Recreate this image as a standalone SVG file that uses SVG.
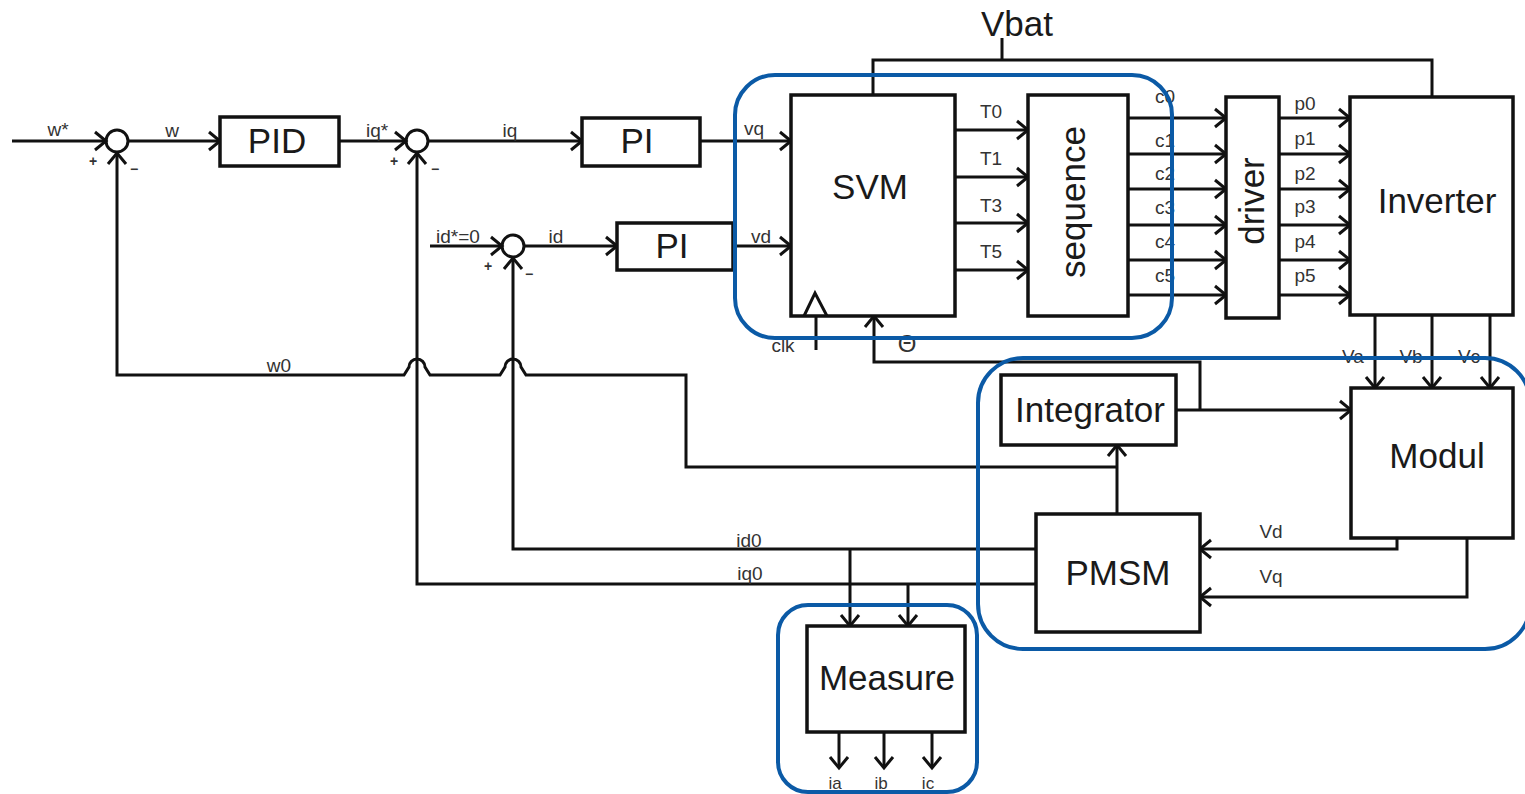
<svg xmlns="http://www.w3.org/2000/svg" width="1525" height="794" viewBox="0 0 1525 794">
<defs>
<style>
.box{fill:#fff;stroke:#111;stroke-width:3.5}
.ln{fill:none;stroke:#111;stroke-width:3}
.arw{fill:none;stroke:#111;stroke-width:3;marker-end:url(#arr)}
.big{font-family:"Liberation Sans",Arial,sans-serif;font-size:35px;fill:#1a1a1a;text-anchor:middle}
.sm{font-family:"Liberation Sans",Arial,sans-serif;font-size:19px;fill:#333;text-anchor:middle}
.sg{font-family:"Liberation Sans",Arial,sans-serif;font-size:14px;font-weight:bold;fill:#333;text-anchor:middle}
.grp{fill:none;stroke:#0b5aa6;stroke-width:4}
</style>
<marker id="arr" markerWidth="14" markerHeight="22" refX="12" refY="10" orient="auto" markerUnits="userSpaceOnUse" overflow="visible">
<path d="M1,1 L12,10 L1,19" fill="none" stroke="#111" stroke-width="3"/>
</marker>
</defs>
<rect width="1525" height="794" fill="#fff"/>

<g id="connectors">
<path class="arw" d="M12,141 L106,141"/>
<path class="arw" d="M128,141 L220,141"/>
<path class="arw" d="M339,141 L406,141"/>
<path class="arw" d="M428,141 L582,141"/>
<path class="arw" d="M700,141 L791,141"/>
<path class="arw" d="M430,246 L502,246"/>
<path class="arw" d="M524,246 L617,246"/>
<path class="arw" d="M733,246 L791,246"/>
<path class="arw" d="M955,130 L1028,130"/>
<path class="arw" d="M955,177 L1028,177"/>
<path class="arw" d="M955,223 L1028,223"/>
<path class="arw" d="M955,270 L1028,270"/>
<path class="arw" d="M1128,118 L1226,118"/>
<path class="arw" d="M1128,154 L1226,154"/>
<path class="arw" d="M1128,189 L1226,189"/>
<path class="arw" d="M1128,225 L1226,225"/>
<path class="arw" d="M1128,260 L1226,260"/>
<path class="arw" d="M1128,295 L1226,295"/>
<path class="arw" d="M1279,118 L1350,118"/>
<path class="arw" d="M1279,154 L1350,154"/>
<path class="arw" d="M1279,189 L1350,189"/>
<path class="arw" d="M1279,225 L1350,225"/>
<path class="arw" d="M1279,260 L1350,260"/>
<path class="arw" d="M1279,295 L1350,295"/>
<path class="ln" d="M873,95 L873,60 L1432,60 L1432,97"/>
<path class="ln" d="M1002,38 L1002,60"/>
<path class="arw" d="M1375,315 L1375,388"/>
<path class="arw" d="M1432,315 L1432,388"/>
<path class="arw" d="M1490,315 L1490,388"/>
<path class="arw" d="M1397,538 L1397,549 L1200,549"/>
<path class="arw" d="M1467,538 L1467,597 L1200,597"/>
<path class="arw" d="M1117,514 L1117,445"/>
<path class="arw" d="M1176,410 L1351,410"/>
<path class="arw" d="M1200,410 L1200,362 L874,362 L874,316"/>
<path class="ln" d="M816,350 L816,316"/>
<path class="arw" d="M1117,467 L686,467 L686,375 L526,375 L521,367 A8,8 0 0 0 505,367 L500,375 L430,375 L425,367 A8,8 0 0 0 409,367 L404,375 L117,375 L117,153"/>
<path class="arw" d="M1036,549 L513,549 L513,258"/>
<path class="arw" d="M1036,584 L417,584 L417,153"/>
<path class="arw" d="M850,549 L850,626"/>
<path class="arw" d="M908,584 L908,626"/>
<path class="arw" d="M839,732 L839,768"/>
<path class="arw" d="M884,732 L884,768"/>
<path class="arw" d="M932,732 L932,768"/>
</g>

<g id="sum1"><circle cx="117" cy="141" r="11" class="ln"/><text class="sg" x="93" y="166">+</text><text class="sg" x="134" y="174">−</text></g>
<g id="sum2"><circle cx="417" cy="141" r="11" class="ln"/><text class="sg" x="394" y="166">+</text><text class="sg" x="435" y="174">−</text></g>
<g id="sum3"><circle cx="513" cy="246" r="11" class="ln"/><text class="sg" x="488" y="271">+</text><text class="sg" x="529" y="279">−</text></g>

<g id="pid"><rect class="box" x="220" y="117" width="119" height="49"/><text class="big" x="277" y="153">PID</text></g>
<g id="pi1"><rect class="box" x="582" y="118" width="118" height="48"/><text class="big" x="637" y="153">PI</text></g>
<g id="pi2"><rect class="box" x="617" y="223" width="116" height="47"/><text class="big" x="672" y="258">PI</text></g>
<g id="svm"><rect class="box" x="791" y="95" width="164" height="221"/><path class="ln" d="M804,316 L815,293 L827,316"/><text class="big" x="870" y="199">SVM</text></g>
<g id="sequence"><rect class="box" x="1028" y="95" width="100" height="221"/><text class="big" transform="translate(1085,202) rotate(-90)">sequence</text></g>
<g id="driver"><rect class="box" x="1226" y="97" width="53" height="221"/><text class="big" transform="translate(1264,201) rotate(-90)">driver</text></g>
<g id="inverter"><rect class="box" x="1350" y="97" width="163" height="218"/><text class="big" x="1437" y="213">Inverter</text></g>
<g id="modul"><rect class="box" x="1351" y="388" width="162" height="150"/><text class="big" x="1437" y="468">Modul</text></g>
<g id="integrator"><rect class="box" x="1001" y="375" width="175" height="70"/><text class="big" x="1090" y="422">Integrator</text></g>
<g id="pmsm"><rect class="box" x="1036" y="514" width="164" height="118"/><text class="big" x="1118" y="585">PMSM</text></g>
<g id="measure"><rect class="box" x="807" y="626" width="158" height="106"/><text class="big" x="887" y="690">Measure</text></g>

<g id="labels">
<text class="big" x="1017" y="36">Vbat</text>
<text class="sm" x="58" y="136">w*</text>
<text class="sm" x="172" y="137">w</text>
<text class="sm" x="377" y="137">iq*</text>
<text class="sm" x="510" y="137">iq</text>
<text class="sm" x="754" y="135">vq</text>
<text class="sm" x="458" y="243">id*=0</text>
<text class="sm" x="556" y="243">id</text>
<text class="sm" x="761" y="243">vd</text>
<text class="sm" x="991" y="118">T0</text>
<text class="sm" x="991" y="165">T1</text>
<text class="sm" x="991" y="212">T3</text>
<text class="sm" x="991" y="258">T5</text>
<text class="sm" x="1165" y="103">c0</text>
<text class="sm" x="1165" y="147">c1</text>
<text class="sm" x="1165" y="180">c2</text>
<text class="sm" x="1165" y="214">c3</text>
<text class="sm" x="1165" y="248">c4</text>
<text class="sm" x="1165" y="282">c5</text>
<text class="sm" x="1305" y="110">p0</text>
<text class="sm" x="1305" y="145">p1</text>
<text class="sm" x="1305" y="180">p2</text>
<text class="sm" x="1305" y="213">p3</text>
<text class="sm" x="1305" y="248">p4</text>
<text class="sm" x="1305" y="282">p5</text>
<text class="sm" x="1353" y="363">Va</text>
<text class="sm" x="1411" y="363">Vb</text>
<text class="sm" x="1469" y="363">Vc</text>
<text class="sm" x="1271" y="538">Vd</text>
<text class="sm" x="1271" y="583">Vq</text>
<text class="sm" x="279" y="372">w0</text>
<text class="sm" x="749" y="547">id0</text>
<text class="sm" x="750" y="580">iq0</text>
<text class="sm" x="783" y="352">clk</text>
<text class="sm" x="907" y="352" style="font-size:24px">Θ</text>
<text class="sm" x="835" y="789" style="font-size:17px">ia</text>
<text class="sm" x="881" y="789" style="font-size:17px">ib</text>
<text class="sm" x="928" y="789" style="font-size:17px">ic</text>
</g>

<g id="groups">
<rect class="grp" x="735" y="75" width="437" height="263" rx="40"/>
<rect class="grp" x="978" y="358" width="552" height="291" rx="45"/>
<rect class="grp" x="778" y="605" width="199" height="187" rx="30"/>
</g>
</svg>
